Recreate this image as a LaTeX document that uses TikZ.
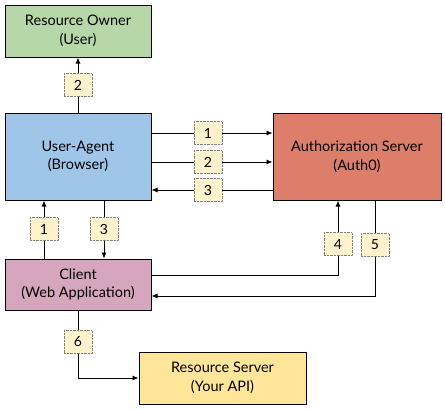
\documentclass[tikz,border=0pt]{standalone}
\usepackage{fontspec}
\setmainfont{Lato}
\usetikzlibrary{arrows.meta}
\definecolor{ownergreen}{HTML}{B6D7A8}
\definecolor{agentblue}{HTML}{9FC5E8}
\definecolor{authred}{HTML}{DD7E6B}
\definecolor{clientpink}{HTML}{D5A6BD}
\definecolor{apiyellow}{HTML}{FFE599}
\definecolor{msgyellow}{HTML}{FFF2CC}

\begin{document}
\begin{tikzpicture}[x=1pt, y=-1pt,
    actor/.style={draw, line width=1pt, align=center, font=\fontsize{14.5}{18.5}\selectfont},
    msg/.style={draw=black!50, densely dotted, fill=msgyellow, minimum width=28pt, minimum height=23pt, inner sep=0pt, font=\fontsize{14}{16}\selectfont},
    flow/.style={line width=0.9pt},
    flowarr/.style={flow, -{Latex[length=6pt,width=5pt]}}]
    \useasboundingbox (0,0) rectangle (445,410);

    \node[actor, minimum width=146pt, minimum height=52pt, fill=ownergreen] (owner) at (78, 31) {Resource Owner\\(User)};
    \node[actor, minimum width=146pt, minimum height=87pt, fill=agentblue] (agent) at (78, 156.5) {User-Agent\\(Browser)};
    \node[actor, minimum width=168pt, minimum height=87pt, fill=authred] (auth) at (357, 156.5) {Authorization Server\\(Auth0)};
    \node[actor, minimum width=146pt, minimum height=51pt, fill=clientpink] (client) at (78, 284.5) {Client\\(Web Application)};
    \node[actor, minimum width=167pt, minimum height=52pt, fill=apiyellow] (api) at (222.5, 378) {Resource Server\\(Your API)};

    % step labels
    \node[msg] (m2a) at (78, 85) {2};
    \node[msg] (m1) at (208, 133) {1};
    \node[msg] (m2) at (208, 162) {2};
    \node[msg] (m3) at (208, 190) {3};
    \node[msg] (m1b) at (44, 229) {1};
    \node[msg] (m3b) at (104, 229) {3};
    \node[msg] (m4) at (338, 244) {4};
    \node[msg] (m5) at (375, 245) {5};
    \node[msg] (m6) at (78, 342) {6};

    \draw[flow] (agent.north) -- (m2a);
    \draw[flowarr] (m2a) -- (owner.south);

    \draw[flow] (agent.east |- m1) -- (m1);
    \draw[flowarr] (m1) -- (auth.west |- m1);
    \draw[flow] (agent.east |- m2) -- (m2);
    \draw[flowarr] (m2) -- (auth.west |- m2);
    \draw[flow] (auth.west |- m3) -- (m3);
    \draw[flowarr] (m3) -- (agent.east |- m3);

    \draw[flow] (client.north -| m1b) -- (m1b);
    \draw[flowarr] (m1b) -- (agent.south -| m1b);
    \draw[flow] (agent.south -| m3b) -- (m3b);
    \draw[flowarr] (m3b) -- (client.north -| m3b);

    \draw[flow] ([yshift=9.5pt]client.east) -| (m4);
    \draw[flowarr] (m4) -- (auth.south -| m4);
    \draw[flow] (auth.south -| m5) -- (m5);
    \draw[flowarr] (m5) |- ([yshift=-11.5pt]client.east);

    \draw[flow] (client.south) -- (m6);
    \draw[flowarr] (m6) |- (api.west);
\end{tikzpicture}
\end{document}
